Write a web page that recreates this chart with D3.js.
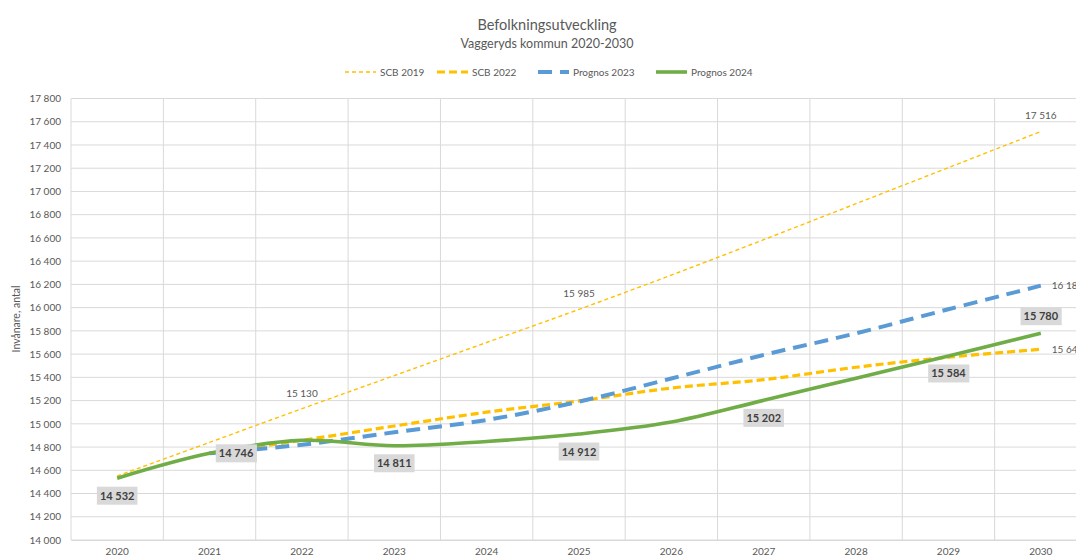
<!DOCTYPE html>
<html><head><meta charset="utf-8">
<script src="https://cdn.jsdelivr.net/npm/d3@7"></script>
<style>
html,body{margin:0;padding:0;background:#fff;overflow:hidden}
text{font-family:Lato,"Open Sans",sans-serif}
</style></head>
<body><svg id="c" width="1076" height="557"></svg>
<script>
const years = [2020,2021,2022,2023,2024,2025,2026,2027,2028,2029,2030];
const scb2019 = [14551,14840,15130,15415,15700,15985,16280,16585,16895,17205,17516];
const scb2022 = [null,14746,14858,14981,15100,15197,15308,15380,15487,15573,15642];
const prog2023 = [null,14746,14820,14927,15033,15191,15390,15593,15779,15986,16189];
const prog2024 = [14532,14746,14858,14811,14848,14912,15015,15202,15393,15584,15780];
const yTicks = d3.range(14000, 17801, 200);
const seriesNames = ["SCB 2019","SCB 2022","Prognos 2023","Prognos 2024"];
const title = "Befolkningsutveckling";
const subtitle = "Vaggeryds kommun 2020-2030";
const yTitle = "Invånare, antal";

const svg = d3.select("#c");
const fmt = v => d3.format(",")(v).replace(/,/g, " ");

const x = d3.scaleBand().domain(years).range([71, 1087]);
const y = d3.scaleLinear().domain([14000, 17800]).range([540, 98.5]);
const cx = yr => x(yr) + x.bandwidth()/2;

// gridlines
const grid = svg.append("g");
grid.selectAll("line.h").data(yTicks).join("line")
  .attr("x1", 71).attr("x2", 1087)
  .attr("y1", d => y(d)).attr("y2", d => y(d))
  .attr("stroke", "#d9d9d9").attr("stroke-width", 1);
const bounds = years.map(d => x(d)).concat([x(years[years.length-1]) + x.bandwidth()]);
grid.selectAll("line.v").data(bounds).join("line")
  .attr("x1", d => d).attr("x2", d => d)
  .attr("y1", y(17800)).attr("y2", y(14000))
  .attr("stroke", "#d9d9d9").attr("stroke-width", 1);

// axes
const yAxis = svg.append("g").attr("transform", "translate(71,0)")
  .call(d3.axisLeft(y).tickValues(yTicks).tickFormat(fmt).tickSize(0).tickPadding(10));
yAxis.select(".domain").remove();
yAxis.selectAll("text").attr("fill", "#595959").style("font-size", "10px");

const xAxis = svg.append("g").attr("transform", "translate(0,540)")
  .call(d3.axisBottom(x).tickSize(0).tickPadding(8));
xAxis.select(".domain").attr("stroke", "#d9d9d9");
xAxis.selectAll("text").attr("fill", "#595959").style("font-size", "10px");

svg.append("text").attr("transform", "translate(20,319) rotate(-90)")
  .attr("text-anchor", "middle").attr("fill", "#595959").style("font-size", "10.5px").text(yTitle);

// titles
svg.append("text").attr("x", 547).attr("y", 30).attr("text-anchor", "middle")
  .attr("fill", "#595959").style("font-size", "14.5px").text(title);
svg.append("text").attr("x", 547).attr("y", 48).attr("text-anchor", "middle")
  .attr("fill", "#595959").style("font-size", "12.5px").text(subtitle);

// series
const styles = [
  {color:"#FFC000", w:1.4, dash:"4,3"},
  {color:"#FFC000", w:3.2, dash:"8,4"},
  {color:"#5B9BD5", w:4, dash:"14,8"},
  {color:"#70AD47", w:3.6, dash:null}
];
const allSeries = [scb2019, scb2022, prog2023, prog2024];
const line = d3.line()
  .defined(d => d.v != null)
  .x(d => cx(d.yr)).y(d => y(d.v))
  .curve(d3.curveCatmullRom.alpha(0.5));
allSeries.forEach((s, i) => {
  const pts = years.map((yr, j) => ({yr, v: s[j]}));
  svg.append("path").datum(pts)
    .attr("fill", "none").attr("stroke", styles[i].color)
    .attr("stroke-width", styles[i].w)
    .attr("stroke-dasharray", styles[i].dash)
    .attr("d", line);
});

// legend
const legX = [345, 437, 538, 656];
seriesNames.forEach((n, i) => {
  const g = svg.append("g");
  g.append("line").attr("x1", legX[i]).attr("x2", legX[i] + 31)
    .attr("y1", 72).attr("y2", 72)
    .attr("stroke", styles[i].color).attr("stroke-width", styles[i].w)
    .attr("stroke-dasharray", styles[i].dash);
  g.append("text").attr("x", legX[i] + 35).attr("y", 75.5)
    .attr("fill", "#595959").style("font-size", "10px").text(n);
});

// data labels for Prognos 2024 (boxed)
const lab2024 = [[0,"below"],[1,"right"],[3,"below"],[5,"below"],[7,"below"],[9,"below"],[10,"above"]];
lab2024.forEach(([j, pos]) => {
  const px = cx(years[j]), py = y(prog2024[j]);
  let tx = px, ty = py, anchor = "middle";
  if (pos === "below") ty = py + 17.5;
  else if (pos === "above") ty = py - 17;
  else if (pos === "right") { tx = px + 8 + 18.5; ty = py; }
  const g = svg.append("g");
  const t = g.append("text").attr("x", tx).attr("y", ty + 4)
    .attr("text-anchor", anchor).attr("fill", "#404040")
    .style("font-size", "11px").style("font-weight", "bold").text(fmt(prog2024[j]));
  const bb = t.node().getBBox();
  g.insert("rect", "text").attr("x", bb.x - 3).attr("y", ty - 9)
    .attr("width", bb.width + 6).attr("height", 18).attr("fill", "#d9d9d9");
});

// data labels for SCB 2019 (plain, above)
[2, 5, 10].forEach(j => {
  svg.append("text").attr("x", cx(years[j])).attr("y", y(scb2019[j]) - 12)
    .attr("text-anchor", "middle").attr("fill", "#595959").style("font-size", "10px")
    .text(fmt(scb2019[j]));
});
// end labels, right
[[scb2022, 10], [prog2023, 10]].forEach(([s, j]) => {
  svg.append("text").attr("x", cx(years[j]) + 11).attr("y", y(s[j]) + 3.5)
    .attr("fill", "#595959").style("font-size", "10px").text(fmt(s[j]));
});
</script></body></html>
